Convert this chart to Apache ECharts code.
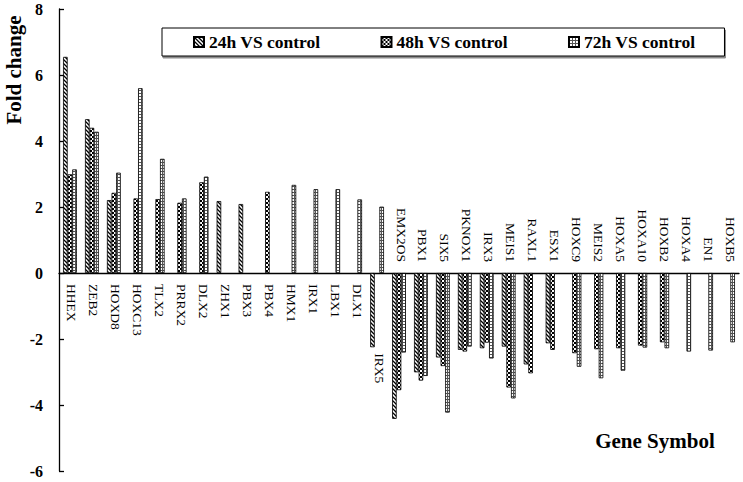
<!DOCTYPE html>
<html>
<head>
<meta charset="utf-8">
<script src="https://cdn.jsdelivr.net/npm/echarts@6/dist/echarts.min.js"></script>
<style>
  html, body { margin: 0; padding: 0; background: #fff; }
  #chart { width: 743px; height: 482px; }
</style>
</head>
<body>
<div id="chart"></div>
<script>
// gene symbols along the x axis
const categories = ['HHEX', 'ZEB2', 'HOXD8', 'HOXC13', 'TLX2', 'PRRX2', 'DLX2', 'ZHX1', 'PBX3', 'PBX4',
  'HMX1', 'IRX1', 'LBX1', 'DLX1', 'IRX5', 'EMX2OS', 'PBX1', 'SIX5', 'PKNOX1', 'IRX3', 'MEIS1',
  'RAXL1', 'ESX1', 'HOXC9', 'MEIS2', 'HOXA5', 'HOXA10', 'HOXB2', 'HOXA4', 'EN1', 'HOXB5'];

// fold change per time point (null = not shown)
const fc24h = [6.55, 4.66, 2.21, null, null, null, null, 2.18, 2.09, null,
  null, null, null, null, -2.25, -4.42, -3.01, -2.56, -2.33, -2.28, -2.23,
  -2.77, -2.13, null, null, null, null, null, null, null, null];
const fc48h = [2.99, 4.40, 2.43, 2.26, 2.24, 2.13, 2.75, null, null, 2.46,
  null, null, null, null, null, -3.55, -3.26, -2.82, -2.38, -2.11, -3.47,
  -3.04, -2.33, -2.43, -2.31, -2.28, -2.20, -2.10, null, null, null];
const fc72h = [3.14, 4.28, 3.04, 5.60, 3.46, 2.26, 2.92, null, null, null,
  2.67, 2.54, 2.54, 2.23, 2.01, -2.41, -3.12, -4.23, -2.23, -2.59, -3.80,
  null, null, -2.84, -3.19, -2.96, -2.26, -2.28, -2.38, -2.35, -2.10];

const seriesNames = ['24h VS control', '48h VS control', '72h VS control'];

const SERIF = '"Liberation Serif", "Times New Roman", serif';

// small tiles used as fill patterns
function makeTile(size, draw) {
  const c = document.createElement('canvas');
  c.width = size; c.height = size;
  const ctx = c.getContext('2d');
  ctx.fillStyle = '#fff';
  ctx.fillRect(0, 0, size, size);
  ctx.fillStyle = '#000';
  ctx.strokeStyle = '#000';
  draw(ctx);
  return c;
}
const hatchTile = makeTile(4, ctx => {
  ctx.lineWidth = 1.3;
  ctx.beginPath();
  ctx.moveTo(-1, -1); ctx.lineTo(5, 5);
  ctx.moveTo(-1, 3); ctx.lineTo(1, 5);
  ctx.moveTo(3, -1); ctx.lineTo(5, 1);
  ctx.stroke();
});
const checkTile = makeTile(4, ctx => {
  ctx.fillRect(0, 0, 2, 2);
  ctx.fillRect(2, 2, 2, 2);
});
const dotTile = makeTile(3, ctx => {
  ctx.fillStyle = '#555';
  ctx.fillRect(0, 0, 3, 1);
  ctx.fillRect(0, 0, 1, 3);
});
const tiles = [hatchTile, checkTile, dotTile];

const chart = echarts.init(document.getElementById('chart'), null, { renderer: 'svg' });

const barSeries = [fc24h, fc48h, fc72h].map((vals, k) => ({
  name: seriesNames[k],
  type: 'bar',
  data: vals,
  barWidth: 4.6,
  barGap: '0%',
  itemStyle: {
    color: { image: tiles[k], repeat: 'repeat' },
    borderColor: '#000',
    borderWidth: 0.8
  },
  emphasis: { disabled: true }
}));

// gene names: under the axis for up genes, over it for down genes,
// and under the bar when a gene goes both ways
const labelSeries = {
  type: 'custom',
  silent: true,
  data: categories.map((c, i) => [i, 0]),
  renderItem: function (params, api) {
    const i = api.value(0);
    const vals = [fc24h[i], fc48h[i], fc72h[i]].filter(v => v != null);
    const mn = Math.min.apply(null, vals);
    const mx = Math.max.apply(null, vals);
    let y0 = 0, off = 11, align = 'left';
    if (mx <= 0) { off = -11; align = 'right'; }
    else if (mn < 0) { y0 = mn; off = 6; }
    const p = api.coord([i, y0]);
    return {
      type: 'text',
      x: p[0] + 2,
      y: p[1] + off,
      rotation: -Math.PI / 2,
      style: {
        text: categories[i],
        font: '13.5px ' + SERIF,
        fill: '#000',
        align: align,
        verticalAlign: 'middle'
      }
    };
  }
};

chart.setOption({
  animation: false,
  grid: { left: 59, right: 4, top: 9, bottom: 11 },
  legend: {
    data: seriesNames,
    left: 162,
    top: 28,
    padding: [5, 29, 5, 31],
    itemGap: 60,
    itemWidth: 10,
    itemHeight: 10,
    icon: 'rect',
    borderColor: '#000',
    borderWidth: 1,
    backgroundColor: '#fff',
    shadowColor: 'rgba(0,0,0,0.45)',
    shadowOffsetX: 1,
    shadowOffsetY: 2,
    shadowBlur: 0,
    selectedMode: false,
    textStyle: { fontFamily: SERIF, fontWeight: 'bold', fontSize: 17.5, color: '#000', lineHeight: 18 }
  },
  xAxis: {
    type: 'category',
    data: categories,
    axisLine: { onZero: true, lineStyle: { color: '#000', width: 1.3 } },
    axisTick: { inside: true, length: 4, interval: 0, lineStyle: { color: '#000', width: 1.3 } },
    axisLabel: { show: false }
  },
  yAxis: {
    type: 'value',
    min: -6,
    max: 8,
    interval: 2,
    splitLine: { show: false },
    axisLine: { show: true, lineStyle: { color: '#000', width: 1.3 } },
    axisTick: { show: true, inside: true, length: 5, lineStyle: { color: '#000', width: 1.3 } },
    axisLabel: { margin: 16, fontFamily: SERIF, fontWeight: 'bold', fontSize: 16, color: '#000' }
  },
  graphic: [
    {
      type: 'text', x: 14, y: 70, rotation: Math.PI / 2,
      style: { text: 'Fold change', font: 'bold 21px ' + SERIF, fill: '#000', align: 'center', verticalAlign: 'middle' }
    },
    {
      type: 'text', x: 655, y: 441,
      style: { text: 'Gene Symbol', font: 'bold 21px ' + SERIF, fill: '#000', align: 'center', verticalAlign: 'middle' }
    }
  ],
  series: barSeries.concat([labelSeries])
});
</script>
</body>
</html>
